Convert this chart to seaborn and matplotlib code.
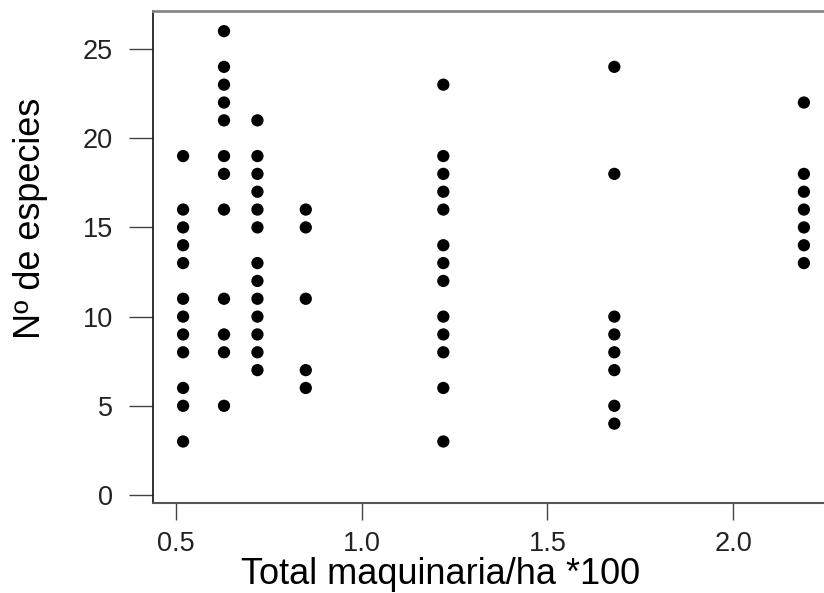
import numpy as np
import pandas as pd
import matplotlib
matplotlib.use("Agg")
import matplotlib.pyplot as plt
import seaborn as sns

# Data
x_levels = [0.52, 0.63, 0.72, 0.85, 1.22, 1.68, 2.19]
especies_052 = [19, 16, 15, 14, 13, 11, 10, 9, 8, 6, 5, 3]
especies_063 = [26, 24, 23, 22, 21, 19, 18, 16, 11, 9, 8, 5]
especies_072 = [21, 19, 18, 17, 16, 15, 13, 12, 11, 10, 9, 8, 7]
especies_085 = [16, 15, 11, 7, 6]
especies_122 = [23, 19, 18, 17, 16, 14, 13, 12, 10, 9, 8, 6, 3]
especies_168 = [24, 18, 10, 9, 8, 7, 5, 4]
especies_219 = [22, 18, 17, 16, 15, 14, 13]
x_ticks = [0.5, 1.0, 1.5, 2.0]
y_ticks = [0, 5, 10, 15, 20, 25]

groups = [especies_052, especies_063, especies_072, especies_085,
          especies_122, especies_168, especies_219]
xs, ys = [], []
for xv, g in zip(x_levels, groups):
    xs += [xv] * len(g)
    ys += g
df = pd.DataFrame({"maq": xs, "esp": ys})

sns.set_style("white")
plt.rcParams['font.family'] = ['Liberation Sans', 'DejaVu Sans']

W, H = 824, 593
fig = plt.figure(figsize=(W / 100, H / 100), dpi=100)
left_px, right_px, top_px, bot_px = 153, 850, 11, 503
ax = fig.add_axes([left_px / W, (H - bot_px) / H,
                   (right_px - left_px) / W, (bot_px - top_px) / H])

sns.scatterplot(data=df, x="maq", y="esp", ax=ax, color="black",
                s=78, edgecolor="none", linewidth=0)

ax.set_xlim(0.439, 2.314)
ax.set_ylim(-0.448, 27.13)
ax.set_xticks(x_ticks)
ax.set_xticklabels([f"{t:.1f}" for t in x_ticks])
ax.set_yticks(y_ticks)
ax.set_yticklabels([str(t) for t in y_ticks])

ax.spines['right'].set_visible(False)
ax.spines['left'].set_color('#222222')
ax.spines['left'].set_linewidth(1.3)
ax.spines['bottom'].set_color('#555555')
ax.spines['bottom'].set_linewidth(1.5)
ax.spines['top'].set_color('#888888')
ax.spines['top'].set_linewidth(2.0)

ax.tick_params(axis='y', direction='out', length=17, width=1.0,
               color='#444444', pad=12, labelsize=19.5, labelcolor='#222222',
               left=True)
ax.tick_params(axis='x', direction='out', length=12, width=1.0,
               color='#444444', pad=8, labelsize=19.5, labelcolor='#222222',
               bottom=True)

ax.set_xlabel("Total maquinaria/ha *100", fontsize=26, color='black')
ax.set_ylabel("Nº de especies", fontsize=26, color='black')
ax.xaxis.set_label_coords((441 - left_px) / (right_px - left_px),
                          -(575 - bot_px) / (bot_px - top_px))
ax.xaxis.label.set_va('center')
ax.yaxis.set_label_coords(-(153 - 31) / (right_px - left_px),
                          (bot_px - 218) / (bot_px - top_px))
ax.yaxis.label.set_va('center')

fig.savefig("out.png", dpi=100)
